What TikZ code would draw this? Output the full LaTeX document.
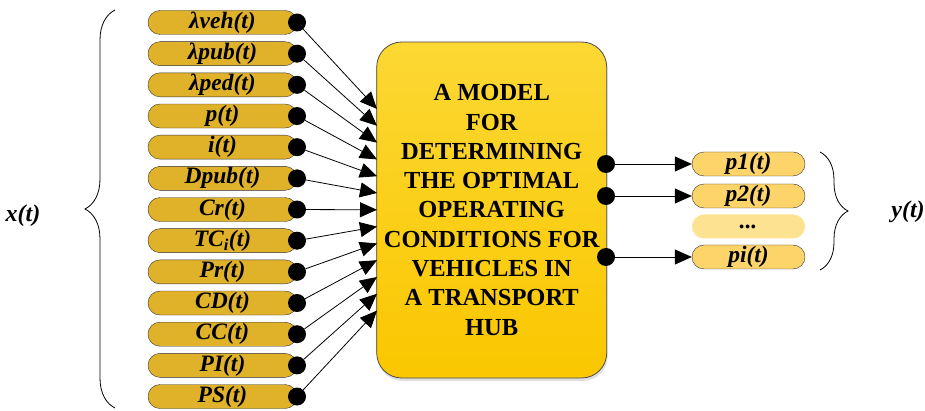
\documentclass[tikz,border=0pt]{standalone}
\usepackage{fontspec}
\setmainfont{Liberation Serif}
\usetikzlibrary{arrows.meta, decorations.pathreplacing, shadows}
\definecolor{inputgold}{HTML}{E0B22A}
\definecolor{outputgold}{HTML}{FCD46A}
\definecolor{moregold}{HTML}{FDE391}
\definecolor{modeltop}{HTML}{FCD834}
\definecolor{modelbottom}{HTML}{FAC700}
\def\inputcolor{inputgold}
\def\outputcolor{outputgold}

\begin{document}
\begin{tikzpicture}[x = 1pt, y = -1pt,
		inpill/.style = {draw = black!80, fill = \inputcolor, rounded corners = 12pt, minimum width = 149pt, minimum height = 24pt, inner sep = 0pt, font = \fontsize{23.5}{23.5}\selectfont\bfseries\itshape},
		outpill/.style = {inpill, fill = \outputcolor, minimum width = 113pt},
		blob/.style = {circle, fill = black, inner sep = 0pt, minimum size = 18pt},
		link/.style = {-{Triangle[length = 17pt, width = 15pt]}, line width = 0.8pt, black}]
		\useasboundingbox (0, 0) rectangle (925, 411);
		\node[draw = black!70, line width = 0.8pt, rounded corners = 25pt, top color = modeltop, bottom color = modelbottom, minimum width = 230pt, minimum height = 336pt, align = center, font = \fontsize{24.5}{29.3}\selectfont\bfseries, drop shadow = {opacity = 0.25, shadow xshift = 1pt, shadow yshift = -3pt}] (model) at (491.7, 210) {A MODEL\\FOR\\DETERMINING\\THE OPTIMAL\\OPERATING\\CONDITIONS FOR\\VEHICLES IN\\A TRANSPORT\\HUB};
		\foreach \lbl [count = \i] in {λveh(t), λpub(t), λped(t), p(t), i(t), Dpub(t), Cr(t), TC\textsubscript{i}(t), Pr(t), CD(t), CC(t), PI(t), PS(t)}
		{
			\node[inpill] (in\i) at (222.5, {22.5 + 31.17 * (\i - 1)}) {\lbl};
			\node[blob] (indot\i) at (297, {22.5 + 31.17 * (\i - 1)}) {};
			\coordinate (intip\i) at (377, {109 + 16.8 * (\i - 1)});
			\draw[link] (indot\i) -- (intip\i);
		}
		\foreach \lbl/\yy [count = \i] in {p1(t)/164, p2(t)/196, pi(t)/257}
		{
			\node[outpill] (out\i) at (748.5, \yy) {\lbl};
			\node[blob] (outdot\i) at (606, \yy) {};
			\draw[link] (outdot\i) -- (out\i);
		}
		\node[outpill, draw = none, fill = moregold] (outmore) at (748.5, 226.5) {...};
		\coordinate (xtop) at (115, 10);
		\coordinate (xbottom) at (115, 408);
		\draw[line width = 0.8pt, decorate, decoration = {brace, amplitude = 30pt}] (xbottom) -- (xtop);
		\node[font = \fontsize{24}{24}\selectfont\bfseries\itshape] (xlabel) at (23, 216) {x(t)};
		\coordinate (ytop) at (820, 152);
		\coordinate (ybottom) at (820, 270);
		\draw[line width = 0.8pt, decorate, decoration = {brace, amplitude = 28pt}] (ytop) -- (ybottom);
		\node[font = \fontsize{24}{24}\selectfont\bfseries\itshape] (ylabel) at (908, 212) {y(t)};
	\end{tikzpicture}
\end{document}
